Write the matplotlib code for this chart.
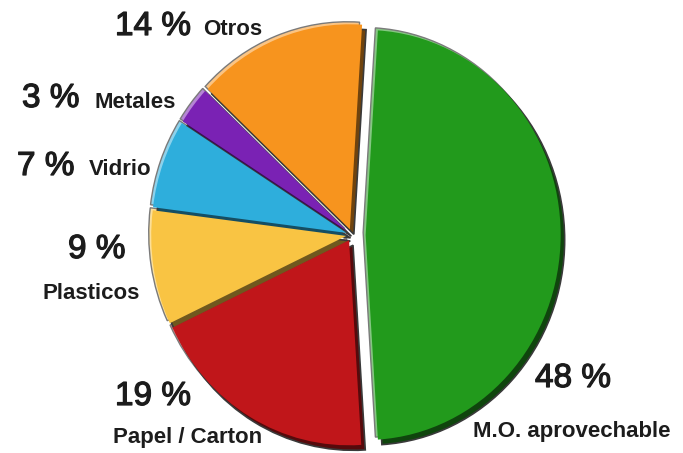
import matplotlib.pyplot as plt
import matplotlib.patheffects as pe
from matplotlib.colors import to_rgb

# composicion de residuos, en el orden de las agujas del reloj desde arriba
categorias = ['M.O. aprovechable', 'Papel / Carton', 'Plasticos',
              'Vidrio', 'Metales', 'Otros']
porcentajes = [48, 19, 9, 7, 3, 14]
etiquetas = [f'{p} %' for p in porcentajes]

colores = ['#229a1c', '#c0161a', '#f9c443', '#2eaedc', '#7a22b4', '#f7941e']
separacion = [0.07, 0.03, 0.03, 0.03, 0.03, 0.03]

W, H = 683, 453
cx, cy = 352, 235      # centro de la torta en pixeles
rx, ry = 195, 205      # radios horizontal / vertical en pixeles

# posiciones de texto (x izq, linea base) en pixeles desde arriba
pos_valor = {
    'Otros': (115, 35), 'Metales': (22, 107), 'Vidrio': (17, 175),
    'Plasticos': (68, 258), 'Papel / Carton': (115, 405),
    'M.O. aprovechable': (535, 387),
}
pos_nombre = {
    'Otros': (203, 35), 'Metales': (95, 108), 'Vidrio': (89, 175),
    'Plasticos': (43, 299), 'Papel / Carton': (113, 443),
    'M.O. aprovechable': (473, 437),
}


def tono(color, f):
    r, g, b = to_rgb(color)
    if f < 1:
        return (r * f, g * f, b * f)
    return tuple(c + (1 - c) * (f - 1) for c in (r, g, b))


fig = plt.figure(figsize=(W / 100, H / 100), dpi=100)
ax = fig.add_axes([0, 0, 1, 1])

# la porcion mayor queda centrada a la derecha
inicio = 90 - (180 - 3.6 * porcentajes[0]) / 2
comun = dict(startangle=inicio, counterclock=False, explode=separacion)

# borde claro arriba-izquierda
ax.pie(porcentajes, colors=[tono(c, 1.45) for c in colores],
       center=(-2.5 / rx, 2.5 / ry),
       wedgeprops=dict(edgecolor='#7a7a7a', linewidth=1.0), **comun)
# sombra oscura abajo-derecha
ax.pie(porcentajes, colors=[tono(c, 0.45) for c in colores],
       center=(4 / rx, -5 / ry),
       wedgeprops=dict(edgecolor='#3a3a3a', linewidth=1.2), **comun)
# porciones
ax.pie(porcentajes, colors=colores,
       wedgeprops=dict(edgecolor='none'), **comun)

ax.set_aspect('auto')
ax.set_xlim(-cx / rx, (W - cx) / rx)
ax.set_ylim(-(H - cy) / ry, cy / ry)
ax.axis('off')

plt.rcParams['font.family'] = ['Liberation Sans', 'DejaVu Sans']
grueso = [pe.withStroke(linewidth=0.9, foreground='#1c1c1c')]
for nombre, etiqueta in zip(categorias, etiquetas):
    x, y = pos_valor[nombre]
    ax.annotate(etiqueta, xy=(x, H - y), xycoords='figure pixels',
                ha='left', va='baseline', fontsize=24, color='#1c1c1c',
                path_effects=grueso)
    x, y = pos_nombre[nombre]
    ax.annotate(nombre, xy=(x, H - y), xycoords='figure pixels',
                ha='left', va='baseline', fontsize=16, fontweight='bold',
                color='#1c1c1c')

fig.savefig('out.png', dpi=100)
